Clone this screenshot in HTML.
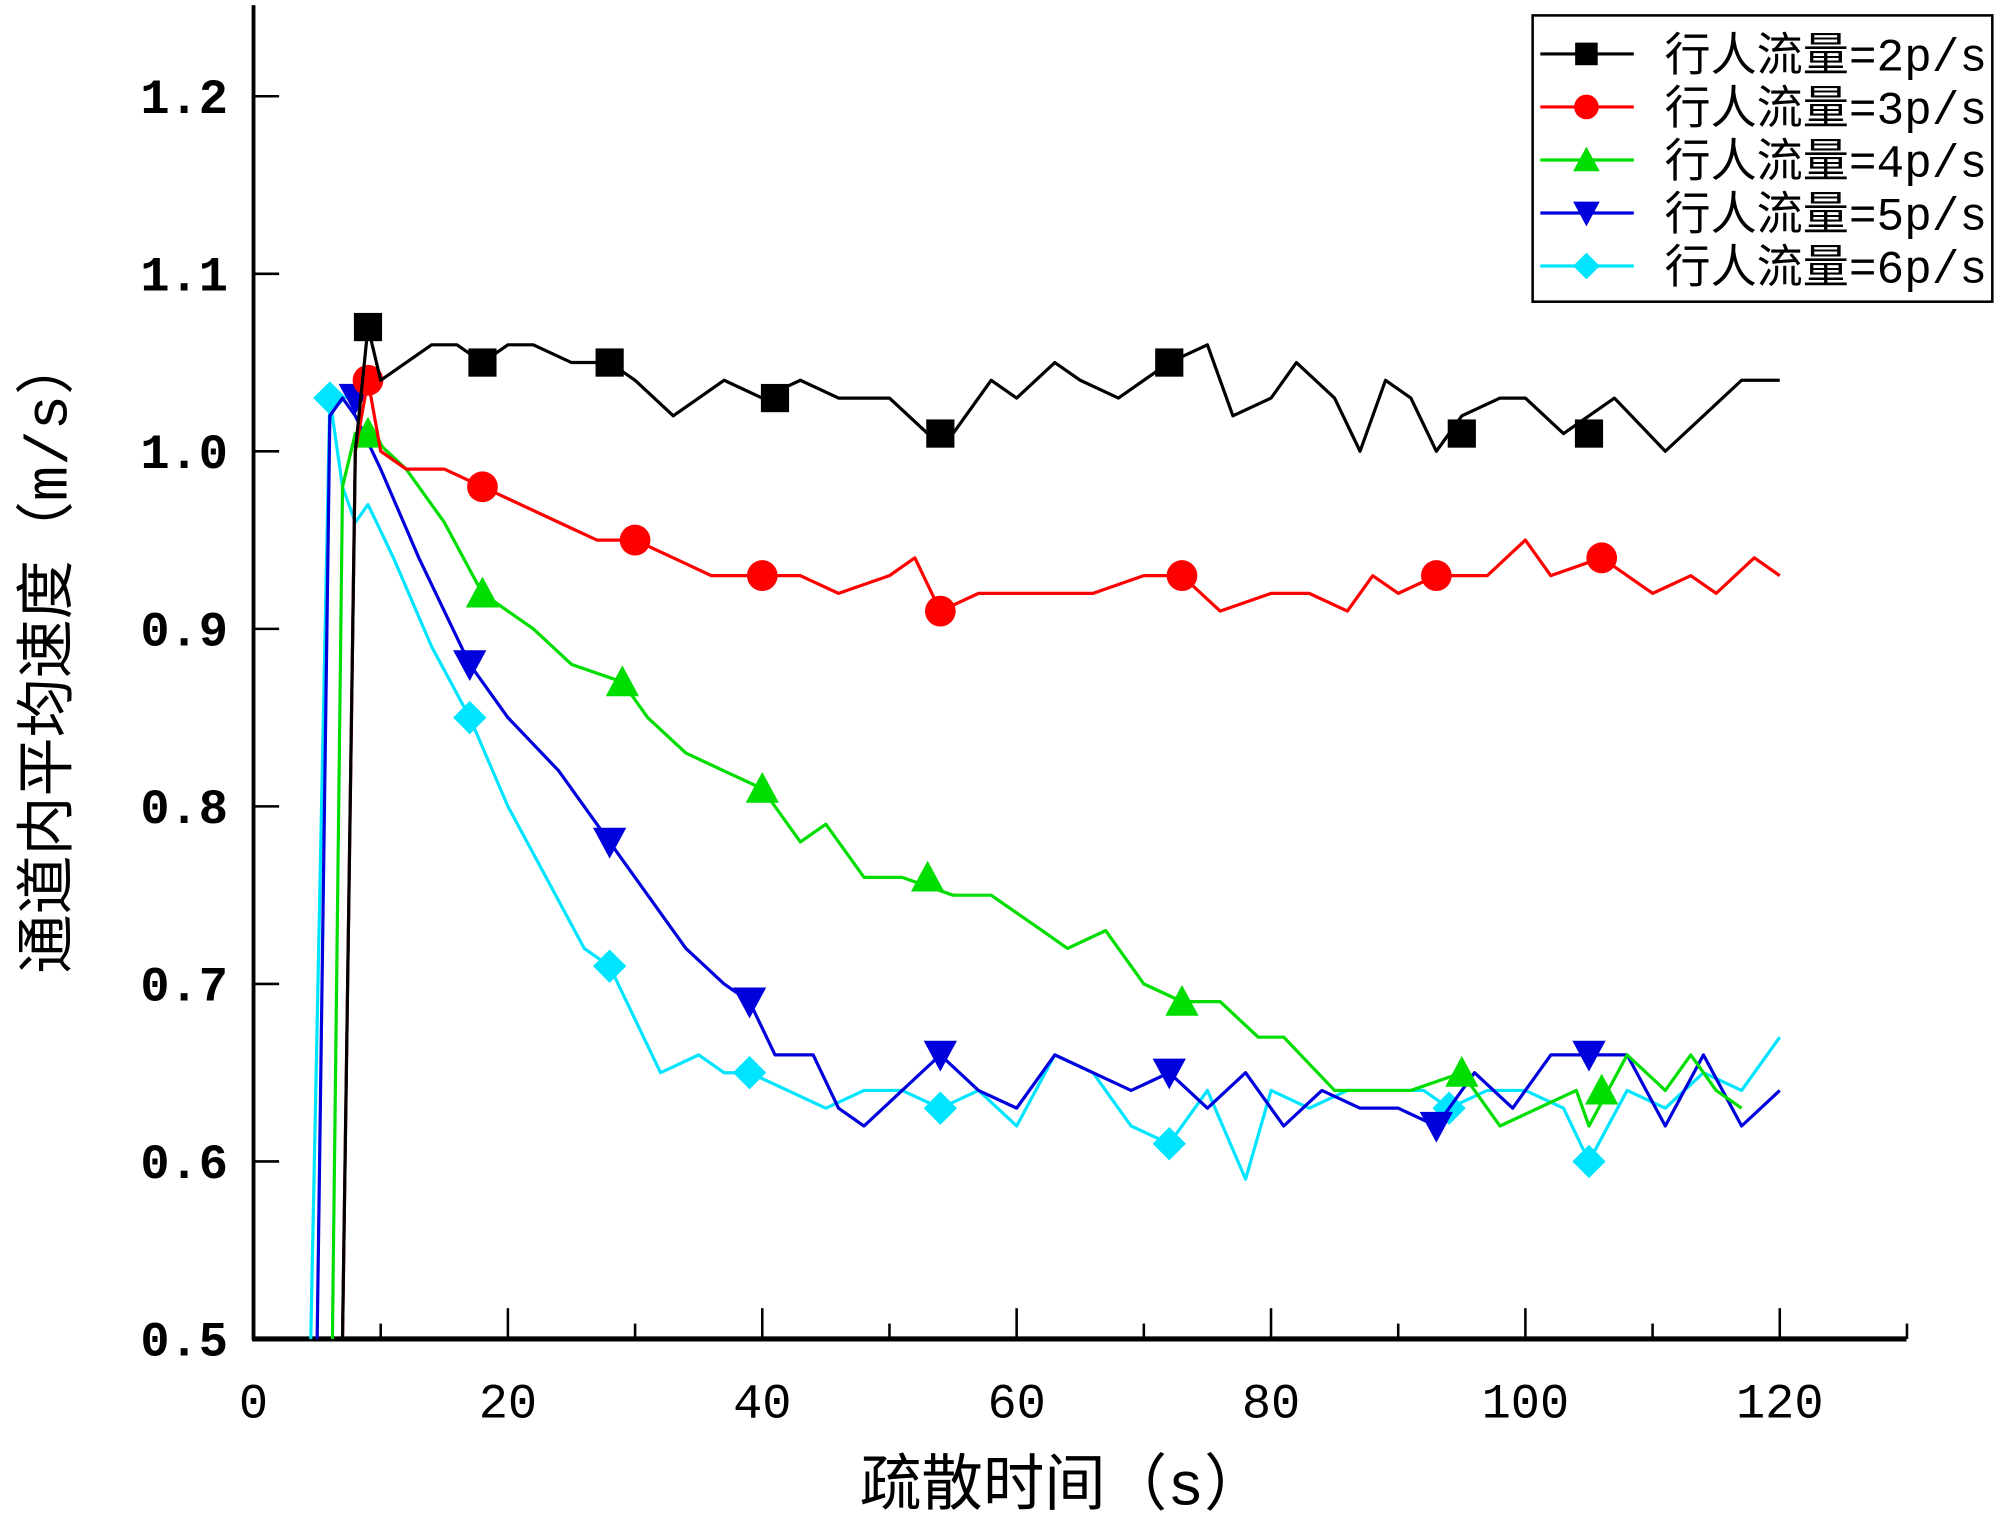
<!DOCTYPE html>
<html><head><meta charset="utf-8"><style>
html,body{margin:0;padding:0;background:#fff;}
svg{display:block;}
text{font-family:"Liberation Mono","Noto Sans CJK SC",monospace;}
</style></head><body>
<svg id="chart" width="2000" height="1520" viewBox="0 0 1562 1184" preserveAspectRatio="none" xmlns="http://www.w3.org/2000/svg">
<g id="axes"></g>
<g id="series"></g>
<g id="legend"></g>
</svg>
<script>
const xTicks=[0,20,40,60,80,100,120];
const yTicks=[0.5,0.6,0.7,0.8,0.9,1.0,1.1,1.2];
const yTickLabels=["0.5","0.6","0.7","0.8","0.9","1.0","1.1","1.2"];
const seriesNames=["行人流量=2p/s","行人流量=3p/s","行人流量=4p/s","行人流量=5p/s","行人流量=6p/s"];
const t2=[7,8,9,10,12,14,16,18,20,22,25,28,30,33,35,37,40,43,46,50,53,55,58,60,63,65,68,70,72,75,77,80,82,85,87,89,91,93,95,98,100,103,107,111,114,117,120];
const v2=[0.5,1.0,1.07,1.04,1.05,1.06,1.06,1.05,1.06,1.06,1.05,1.05,1.04,1.02,1.03,1.04,1.03,1.04,1.03,1.03,1.01,1.01,1.04,1.03,1.05,1.04,1.03,1.04,1.05,1.06,1.02,1.03,1.05,1.03,1.00,1.04,1.03,1.00,1.02,1.03,1.03,1.01,1.03,1.00,1.02,1.04,1.04];
const m2t=[9,18,28,41,54,72,95,105];
const m2v=[1.07,1.05,1.05,1.03,1.01,1.05,1.01,1.01];
const t3=[7,8,9,10,12,15,18,21,24,27,30,33,36,40,43,46,50,52,54,57,60,63,66,70,73,76,80,83,86,88,90,93,97,100,102,106,110,113,115,118,120];
const v3=[0.5,1.0,1.04,1.0,0.99,0.99,0.98,0.97,0.96,0.95,0.95,0.94,0.93,0.93,0.93,0.92,0.93,0.94,0.91,0.92,0.92,0.92,0.92,0.93,0.93,0.91,0.92,0.92,0.91,0.93,0.92,0.93,0.93,0.95,0.93,0.94,0.92,0.93,0.92,0.94,0.93];
const m3t=[9,18,30,40,54,73,93,106];
const m3v=[1.04,0.98,0.95,0.93,0.91,0.93,0.93,0.94];
const t4=[6.2,7,8,9,12,15,18,22,25,29,31,34,37,40,43,45,48,51,55,58,62,64,67,70,73,76,79,81,85,88,91,95,98,101,104,105,108,111,113,115,117];
const v4=[0.5,0.98,1.01,1.01,0.99,0.96,0.92,0.9,0.88,0.87,0.85,0.83,0.82,0.81,0.78,0.79,0.76,0.76,0.75,0.75,0.73,0.72,0.73,0.70,0.69,0.69,0.67,0.67,0.64,0.64,0.64,0.65,0.62,0.63,0.64,0.62,0.66,0.64,0.66,0.64,0.63];
const m4t=[9,18,29,40,53,73,95,106];
const m4v=[1.01,0.92,0.87,0.81,0.76,0.69,0.65,0.64];
const t5=[5,6,7,8,10,13,17,20,24,28,31,34,37,39,41,44,46,48,51,54,57,60,63,66,69,72,75,78,81,84,87,90,93,96,99,102,105,108,111,114,117,120];
const v5=[0.5,1.02,1.03,1.02,0.99,0.94,0.88,0.85,0.82,0.78,0.75,0.72,0.70,0.69,0.66,0.66,0.63,0.62,0.64,0.66,0.64,0.63,0.66,0.65,0.64,0.65,0.63,0.65,0.62,0.64,0.63,0.63,0.62,0.65,0.63,0.66,0.66,0.66,0.62,0.66,0.62,0.64];
const m5t=[8,17,28,39,54,72,93,105];
const m5v=[1.03,0.88,0.78,0.69,0.66,0.65,0.62,0.66];
const t6=[4.5,6,7,8,9,11,14,17,20,23,26,28,30,32,35,37,39,42,45,48,51,54,57,60,63,66,69,72,75,78,80,83,86,89,92,94,97,100,103,105,108,111,114,117,120];
const v6=[0.5,1.03,0.98,0.96,0.97,0.94,0.89,0.85,0.80,0.76,0.72,0.71,0.68,0.65,0.66,0.65,0.65,0.64,0.63,0.64,0.64,0.63,0.64,0.62,0.66,0.65,0.62,0.61,0.64,0.59,0.64,0.63,0.64,0.64,0.64,0.63,0.64,0.64,0.63,0.60,0.64,0.63,0.65,0.64,0.67];
const m6t=[6,17,28,39,54,72,94,105];
const m6v=[1.03,0.85,0.71,0.65,0.63,0.61,0.63,0.60];

const NS="http://www.w3.org/2000/svg";
const X=t=>198+t*(1192/120);
const Y=v=>1043-(v-0.5)*1382.9;
function mk(tag,attrs,parent){const e=document.createElementNS(NS,tag);for(const k in attrs)e.setAttribute(k,attrs[k]);parent.appendChild(e);return e;}
const axes=document.getElementById('axes');
let e;
e=mk('line',{x1:198,y1:4,x2:198,y2:1044,stroke:'#000','stroke-width':3},axes);


e=mk('line',{x1:197,y1:1043,x2:1489,y2:1043,stroke:'#000','stroke-width':4},axes);


for(let t=0;t<=130;t+=10){
  const major=t%20===0;
  e=mk('line',{x1:X(t),y1:1043,x2:X(t),y2:1043-(major?24:12),stroke:'#000','stroke-width':2},axes);
  
  
}
xTicks.forEach(t=>{
  e=mk('text',{x:X(t),y:1104,'text-anchor':'middle','font-size':38,fill:'#000'},axes);
  e.textContent=String(t);
  
  
});
yTicks.forEach((v,i)=>{
  e=mk('line',{x1:198,y1:Y(v),x2:218,y2:Y(v),stroke:'#000','stroke-width':2},axes);
  
  
  e=mk('text',{x:178,y:Y(v)+13,'text-anchor':'end','font-size':38,'font-weight':'bold',fill:'#000'},axes);
  e.textContent=yTickLabels[i];
  
  
});
e=mk('text',{x:830,y:1172,'text-anchor':'middle','font-size':48,fill:'#000'},axes);
e.textContent='疏散时间（s）';


e=mk('text',{x:0,y:0,'text-anchor':'middle','font-size':46,fill:'#000',transform:'translate(52,510) rotate(-90)'},axes);
e.textContent='通道内平均速度（m/s）';



const colors=['#000000','#ff0000','#00dd00','#0000dd','#00e5ff'];
const shapes=['square','circle','up','down','diamond'];
const TS=[t2,t3,t4,t5,t6],VS=[v2,v3,v4,v5,v6],MT=[m2t,m3t,m4t,m5t,m6t],MV=[m2v,m3v,m4v,m5v,m6v];
function marker(shape,cx,cy,col,parent,s){
  s=s||1;let m;
  if(shape==='square')m=mk('rect',{x:cx-11*s,y:cy-11*s,width:22*s,height:22*s,fill:col},parent);
  else if(shape==='circle')m=mk('circle',{cx:cx,cy:cy,r:12*s,fill:col},parent);
  else if(shape==='up')m=mk('polygon',{points:`${cx},${cy-13*s} ${cx-13*s},${cy+11*s} ${cx+13*s},${cy+11*s}`,fill:col},parent);
  else if(shape==='down')m=mk('polygon',{points:`${cx},${cy+13*s} ${cx-13*s},${cy-11*s} ${cx+13*s},${cy-11*s}`,fill:col},parent);
  else m=mk('polygon',{points:`${cx},${cy-13*s} ${cx+13*s},${cy} ${cx},${cy+13*s} ${cx-13*s},${cy}`,fill:col},parent);
  return m;
}
const sg=document.getElementById('series');
for(let i=4;i>=0;i--){
  const g=mk('g',{},sg);
  
  
  const pts=TS[i].map((t,j)=>X(t).toFixed(1)+','+Y(VS[i][j]).toFixed(1)).join(' ');
  const pl=mk('polyline',{points:pts,fill:'none',stroke:colors[i],'stroke-width':2.5,'stroke-linejoin':'round'},g);
  
  
  MT[i].forEach((t,j)=>{
    const m=marker(shapes[i],X(t),Y(MV[i][j]),colors[i],g);
    
    
  });
}
const lg=document.getElementById('legend');
e=mk('rect',{x:1197,y:12,width:359,height:223,fill:'#fff',stroke:'#000','stroke-width':2},lg);


seriesNames.forEach((n,i)=>{
  const y=42+i*41.3;
  const g=mk('g',{},lg);
  
  
  mk('line',{x1:1203,y1:y,x2:1276,y2:y,stroke:colors[i],'stroke-width':2.5},g);
  marker(shapes[i],1239,y,colors[i],g,0.8);
  const tx=mk('text',{x:1300,y:y+13,'font-size':36,fill:'#000'},g);
  tx.textContent=n;
});
</script>
</body></html>
